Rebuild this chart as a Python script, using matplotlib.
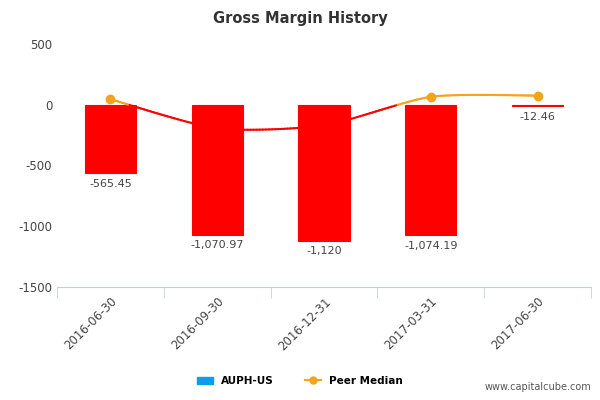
import numpy as np
import matplotlib
matplotlib.use("Agg")
import matplotlib.pyplot as plt
from matplotlib.lines import Line2D
from matplotlib.patches import Patch
from matplotlib.collections import LineCollection

categories = ["2016-06-30", "2016-09-30", "2016-12-31", "2017-03-31", "2017-06-30"]
auph = [-565.45, -1070.97, -1120, -1074.19, -12.46]
labels = ["-565.45", "-1,070.97", "-1,120", "-1,074.19", "-12.46"]
peer = [45, -195, -170, 65, 75]
peer_marker = [True, False, False, True, True]

fig = plt.figure(figsize=(6, 4), dpi=100)
ax = fig.add_axes([0.095, 0.283, 0.89, 0.607])
x = np.arange(len(categories))
ax.bar(x, auph, width=0.48, color="#ff0000", edgecolor="#ff0000", lw=0.8, zorder=2)
for xi, v, l in zip(x, auph, labels):
    ax.text(xi, v - 45, l, ha="center", va="top", fontsize=8, color="#444444")

def catmull(px, py, n=40, k=0.35):
    px = np.array(px, float); py = np.array(py, float)
    P = np.r_[py[0], py, py[-1]]; X = np.r_[px[0], px, px[-1]]
    xs, ys = [], []
    for i in range(1, len(P) - 2):
        t = np.linspace(0, 1, n)
        for arr, out in ((X, xs), (P, ys)):
            p0, p1, p2, p3 = arr[i-1], arr[i], arr[i+1], arr[i+2]
            m1 = k * (p2 - p0); m2 = k * (p3 - p1)
            h00 = 2*t**3 - 3*t**2 + 1; h10 = t**3 - 2*t**2 + t
            h01 = -2*t**3 + 3*t**2; h11 = t**3 - t**2
            out.extend(h00*p1 + h10*m1 + h01*p2 + h11*m2)
    return np.array(xs), np.array(ys)
cx, cy = catmull(x, peer)
pts = np.column_stack([cx, cy]).reshape(-1, 1, 2)
segs = np.concatenate([pts[:-1], pts[1:]], axis=1)
cols = ["#ff0000" if (cy[i] + cy[i+1]) / 2 < 0 else "#f5a31a" for i in range(len(cx) - 1)]
ax.add_collection(LineCollection(segs, colors=cols, linewidths=1.5, capstyle="round", zorder=3))
for xi, v, m in zip(x, peer, peer_marker):
    if m:
        ax.plot(xi, v, "o", color="#f5a31a", ms=6, zorder=4)

ax.set_xlim(-0.5, 4.5)
ax.set_ylim(-1500, 500)
ax.set_yticks([500, 0, -500, -1000, -1500])
ax.set_yticklabels(["500", "0", "-500", "-1000", "-1500"])
ax.set_xticks(np.arange(-0.5, 5, 1), minor=True)
ax.set_xticks(x)
ax.tick_params(axis="x", which="major", length=0, labelsize=8.5, colors="#444444", pad=6)
ax.tick_params(axis="x", which="minor", length=8, color="#c0d0e0")
ax.tick_params(axis="y", length=0, labelsize=8.5, colors="#444444")
ax.set_xticklabels(categories, rotation=45, ha="right", rotation_mode="anchor")
for s in ["top", "right", "left"]:
    ax.spines[s].set_visible(False)
ax.spines["bottom"].set_color("#c0d0e0")
fig.text(0.5, 0.955, "Gross Margin History", ha="center", va="center", fontsize=10.5, fontweight="bold", color="#333333")

handles = [Patch(color="#0aa0e8", label="AUPH-US"),
           Line2D([0], [0], color="#f5a31a", marker="o", ms=5, lw=1.5, label="Peer Median")]
fig.legend(handles=handles, loc="center", bbox_to_anchor=(0.5, 0.048), ncol=2, frameon=False,
           handlelength=1.5, columnspacing=3, prop={"weight": "bold", "size": 7.5})
fig.text(0.985, 0.02, "www.capitalcube.com", ha="right", va="bottom", fontsize=7, color="#555555")
fig.savefig("out.png", dpi=100)
